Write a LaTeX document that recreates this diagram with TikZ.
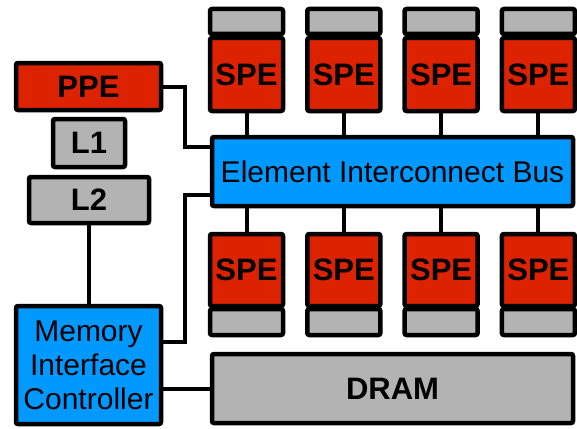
\documentclass[tikz,border=0pt]{standalone}
\usepackage{fontspec}
\setmainfont{Liberation Sans}
\usepackage{xcolor}
\usetikzlibrary{positioning, calc}

\definecolor{cellred}{HTML}{DD2200}
\definecolor{busblue}{HTML}{0099FF}
\definecolor{memgray}{HTML}{B3B3B3}

\begin{document}
\begin{tikzpicture}[
    x=1pt, y=-1pt,
    unit/.style={draw, line width=4.5pt, rounded corners=2pt, inner sep=0pt,
                 align=center, font=\fontsize{31}{34}\selectfont\bfseries},
    redbox/.style={unit, fill=cellred},
    graybox/.style={unit, fill=memgray},
    bluebox/.style={unit, fill=busblue, font=\fontsize{30}{34}\selectfont},
    link/.style={line width=4pt},
]
\useasboundingbox (0,0) rectangle (577,428);

% left column: PPE, caches, memory controller
\node[redbox, minimum width=145pt, minimum height=47pt] (ppe) at (88.5,86.5) {PPE};
\node[graybox, minimum width=72pt, minimum height=48pt] (l1) at (89,143) {L1};
\node[graybox, minimum width=120pt, minimum height=46pt] (l2) at (89,200) {L2};
\node[bluebox, minimum width=145pt, minimum height=118pt] (mic) at (88.5,365)
    {Memory\\Interface\\Controller};

% bus and DRAM
\node[bluebox, minimum width=361pt, minimum height=69pt] (eib) at (392.5,171.5)
    {Element Interconnect Bus};
\node[graybox, minimum width=361pt, minimum height=69pt] (dram) at (392.5,388.5) {DRAM};

% SPEs above and below the bus
\foreach \i in {0,...,3} {
    \node[graybox, minimum width=73pt, minimum height=25pt] (tcap\i) at (246.5+97.3*\i,21.5) {};
    \node[redbox, minimum width=73pt, minimum height=73pt] (tspe\i) at (246.5+97.3*\i,74.5) {SPE};
    \node[redbox, minimum width=73pt, minimum height=72pt] (bspe\i) at (246.5+97.3*\i,270) {SPE};
    \node[graybox, minimum width=73pt, minimum height=26pt] (bcap\i) at (246.5+97.3*\i,322) {};
    \draw[link] (tspe\i.south) -- (tspe\i.south |- eib.north);
    \draw[link] (bspe\i.north) -- (bspe\i.north |- eib.south);
}

% connections on the left
\draw[link] (l2.south) -- (l2.south |- mic.north);
\draw[link] (ppe.east) -- ++(22,0) |- ([yshift=24.5pt]eib.west);
\draw[link] ([yshift=23pt]mic.east) -- ++(22,0) |- ([yshift=-23.5pt]eib.west);
\draw[link] (dram.west -| mic.east) -- (dram.west);

\end{tikzpicture}
\end{document}
